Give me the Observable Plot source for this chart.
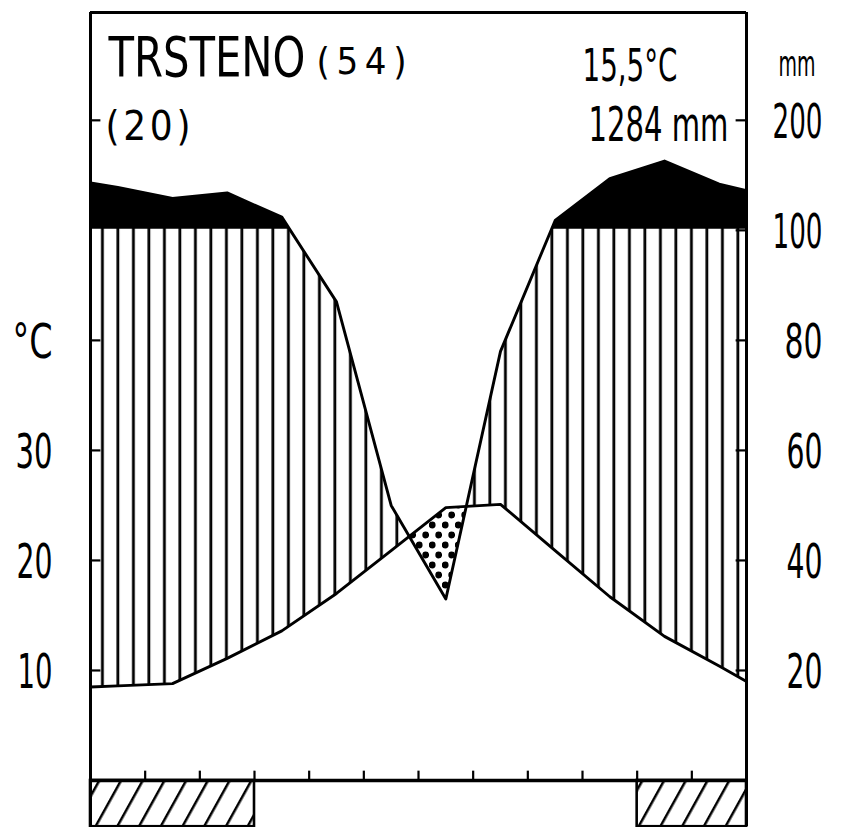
<!DOCTYPE html>
<html><head><meta charset="utf-8">
<script src="https://cdn.jsdelivr.net/npm/d3@7"></script>
<script src="https://cdn.jsdelivr.net/npm/@observablehq/plot@0.6"></script>
<style>
html,body{margin:0;padding:0;background:#fff;}
svg{display:block;}
</style></head><body><div id="chart"></div>
<script>
// ---- data ----
const station = "TRSTENO";
const stationNote = "(54)";
const yearsNote = "(20)";
const meanTemp = "15,5°C";
const annualPrecip = "1284 mm";
const precipUnit = "mm";
const months = ["I","II","III","IV","V","VI","VII","VIII","IX","X","XI","XII"];
const temperature = [8.6, 8.8, 11.1, 13.6, 17.0, 20.9, 24.8, 25.1, 20.9, 16.7, 13.1, 10.4];   // °C
const precipitation = [139, 129, 134, 112, 87, 50, 33, 78, 109, 147, 163, 142];            // mm
const edgeTemperature = [8.5, 9.0];      // curve value at the left / right frame edge
const edgePrecipitation = [143, 136];
const frostPeriods = [{from: 0, to: 3}, {from: 10, to: 12}];   // months with possible frost
const tempTicks = [10, 20, 30, 40, 60];
const tempLabels = [{v: 10, label: "10"}, {v: 20, label: "20"}, {v: 30, label: "30"}, {v: 40, label: "°C"}];
const precipTicks = [20, 40, 60, 80, 100, 200];
const precipLabels = ["20", "40", "60", "80", "100", "200"];

// Walter–Lieth scale: 10 °C = 20 mm up to 100 mm, reduced above
const peq = p => p <= 100 ? p / 2 : 50 + (p - 100) / 10;

const rows = [
  {x: 0, t: edgeTemperature[0], p: edgePrecipitation[0]},
  ...months.map((m, i) => ({x: i + 0.5, t: temperature[i], p: precipitation[i]})),
  {x: 12, t: edgeTemperature[1], p: edgePrecipitation[1]}
];
const monthBounds = months.slice(1).map((m, i) => i + 1);
const TOP = 69.8, BOT = -4.2;
const FONT = '"DejaVu Sans Condensed","DejaVu Sans",sans-serif';

const txt = (text, o) => Plot.text([text], {text: d => d, frameAnchor: "top-left", lineAnchor: "bottom", textAnchor: "start", fill: "black", ...o});

const svg = Plot.plot({
  width: 846, height: 827,
  marginLeft: 90, marginRight: 100, marginTop: 12, marginBottom: 47,
  x: {domain: [0, 12], axis: null},
  y: {domain: [0, TOP], axis: null},
  style: {background: "white", fontFamily: FONT, color: "black", overflow: "visible"},
  marks: [
    Plot.areaY(rows, {x: "x", y1: 0, y2: d => peq(d.p), fill: "url(#vhatch)"}),
    Plot.areaY(rows, {x: "x", y1: 0, y2: "t", fill: "url(#dots)"}),
    Plot.areaY(rows, {x: "x", y1: 50, y2: d => peq(d.p), fill: "black"}),
    Plot.line(rows, {x: "x", y: "t", stroke: "black", strokeWidth: 2.9}),
    Plot.line(rows, {x: "x", y: d => peq(d.p), stroke: "black", strokeWidth: 2.9}),
    Plot.rect(frostPeriods, {x1: "from", x2: "to", y1: BOT, y2: 0, fill: "url(#diag)", stroke: "black", strokeWidth: 2.6}),
    Plot.ruleY([0], {x1: 0, x2: 12, stroke: "black", strokeWidth: 3.4}),
    Plot.ruleY([TOP], {x1: 0, x2: 12, stroke: "black", strokeWidth: 3}),
    Plot.ruleX([0, 12], {y1: BOT, y2: TOP, stroke: "black", strokeWidth: 3}),
    Plot.ruleX(monthBounds, {y1: 0, y2: 0.85, stroke: "black", strokeWidth: 2.2}),
    Plot.ruleY(tempTicks, {x1: 0, x2: 0.19, stroke: "black", strokeWidth: 2.2}),
    Plot.ruleY(precipTicks.map(peq), {x1: 11.81, x2: 12, stroke: "black", strokeWidth: 2.2}),
    Plot.text(tempLabels, {x: 0, y: "v", text: "label", dx: -38, dy: 18, textAnchor: "end", lineAnchor: "bottom", fontSize: 48, fill: "black"}),
    Plot.text(precipTicks, {x: 12, y: d => peq(d), text: (d, i) => precipLabels[i], dx: 76, dy: 18, textAnchor: "end", lineAnchor: "bottom", fontSize: 48, fill: "black"}),
    txt(station, {dx: 18, dy: 63, fontSize: 55}),
    txt(stationNote, {dx: 226, dy: 61, fontSize: 38}),
    txt(yearsNote, {dx: 15, dy: 127, fontSize: 40}),
    txt(meanTemp, {dx: 492, dy: 68, fontSize: 44}),
    txt(annualPrecip, {dx: 498, dy: 128, fontSize: 48}),
    txt(precipUnit, {dx: 688, dy: 63, fontSize: 36})
  ]
});

// patterns and clip regions (built from the plot's own scales)
const sx = svg.scale("x"), sy = svg.scale("y");
const root = d3.select(svg);
const defs = root.insert("defs", ":first-child");
const vh = defs.append("pattern").attr("id", "vhatch").attr("patternUnits", "userSpaceOnUse").attr("width", 15.5).attr("height", 20);
vh.append("rect").attr("x", 8).attr("y", 0).attr("width", 2.8).attr("height", 20).attr("fill", "black");
const dt = defs.append("pattern").attr("id", "dots").attr("patternUnits", "userSpaceOnUse").attr("width", 13).attr("height", 20);
dt.append("circle").attr("cx", 3.2).attr("cy", 5).attr("r", 3.4).attr("fill", "black");
dt.append("circle").attr("cx", 9.7).attr("cy", 15).attr("r", 3.4).attr("fill", "black");
const dg = defs.append("pattern").attr("id", "diag").attr("patternUnits", "userSpaceOnUse").attr("width", 19).attr("height", 19).attr("patternTransform", "rotate(29)");
dg.append("rect").attr("width", 19).attr("height", 19).attr("fill", "white");
dg.append("rect").attr("x", 8).attr("width", 2.5).attr("height", 19).attr("fill", "black");
const X = d => sx.apply(d.x);
const yTop = sy.apply(TOP);
defs.append("clipPath").attr("id", "aboveT").append("path")
  .attr("d", d3.area().x(X).y0(d => sy.apply(d.t)).y1(yTop)(rows));
defs.append("clipPath").attr("id", "aboveP").append("path")
  .attr("d", d3.area().x(X).y0(d => sy.apply(peq(d.p))).y1(yTop)(rows));
defs.append("clipPath").attr("id", "above100").append("rect")
  .attr("x", sx.apply(0) - 2).attr("y", yTop).attr("width", sx.apply(12) - sx.apply(0) + 4).attr("height", sy.apply(50) - yTop - 1.2);
const areas = root.selectAll('g[aria-label="area"]').nodes();
const clips = ["aboveT", "aboveP", "above100"];
areas.forEach((g, i) => { if (clips[i]) g.setAttribute("clip-path", `url(#${clips[i]})`); });

document.getElementById("chart").appendChild(svg);

// fit lettering widths to the narrow hand lettering of the original
const widths = {"TRSTENO": 197, "(54)": 90, "(20)": 85, "15,5°C": 95, "1284 mm": 140, "mm": 37,
  "°C": 40, "10": 35, "20": 36, "30": 37, "40": 36, "60": 36, "80": 38, "100": 50, "200": 50};
root.selectAll("text").each(function() {
  const w = widths[this.textContent];
  if (!w) return;
  const w0 = this.getComputedTextLength();
  if (w0 > w) {
    const fs = parseFloat(getComputedStyle(this).fontSize);
    const k = w / w0;
    this.setAttribute("font-size", fs * k);
    this.setAttribute("transform", (this.getAttribute("transform") || "") + ` scale(1,${1 / k})`);
  } else {
    this.setAttribute("textLength", w);
    this.setAttribute("lengthAdjust", "spacing");
  }
});
</script></body></html>
